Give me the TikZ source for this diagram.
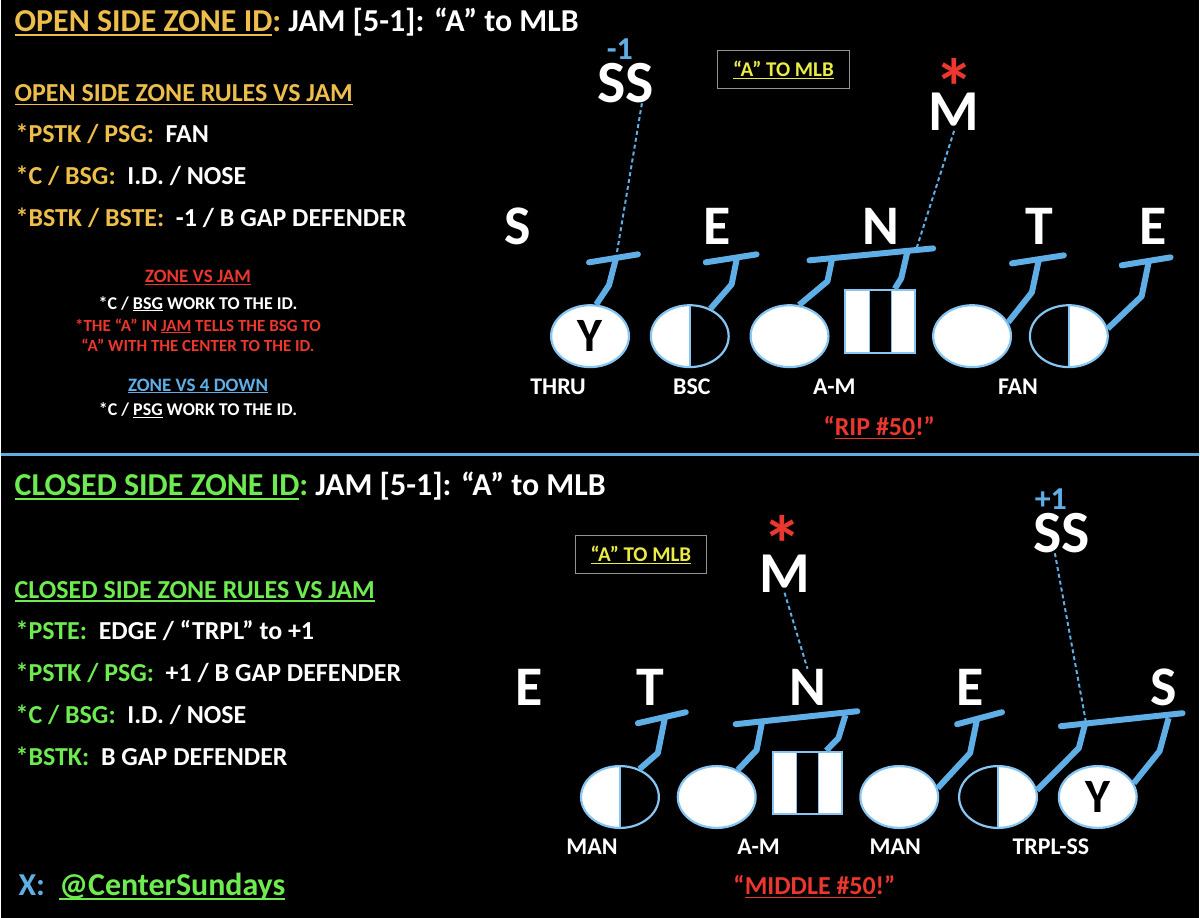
\documentclass[tikz,border=0pt]{standalone}
\usepackage{fontspec}
\setmainfont{Carlito}
\usetikzlibrary{shapes.geometric}

\definecolor{zgold}{RGB}{238,190,75}
\definecolor{zgreen}{RGB}{110,235,80}
\definecolor{zblue}{RGB}{95,175,230}
\definecolor{zred}{RGB}{235,55,45}
\definecolor{zyel}{RGB}{235,235,70}
\definecolor{ring}{RGB}{135,198,242}

\newcommand{\fsz}[1]{\fontsize{#1}{#1}\selectfont}
\newcommand{\uln}[1]{\setbox0\hbox{#1}\rlap{\rule[-0.12em]{\wd0}{0.05em}}\box0\relax}

\begin{document}
\begin{tikzpicture}[x=1pt, y=-1pt,
  txt/.style={inner sep=0pt, anchor=base west, text=white, font=\bfseries\fsz{26}},
  ctxt/.style={txt, anchor=base, font=\bfseries\fsz{24}},
  dman/.style={inner sep=0pt, anchor=base, text=white, font=\bfseries\fsz{56}},
  man/.style={ellipse, draw=ring, line width=2.2pt, fill=white, minimum width=78pt,
    minimum height=62pt, inner sep=0pt, text=black, font=\bfseries\fsz{48}},
  manR/.style={man, path picture={
    \fill[black] (path picture bounding box.north) rectangle (path picture bounding box.south east);
    \draw[ring, line width=1.5pt] (path picture bounding box.north) -- (path picture bounding box.south);}},
  manL/.style={man, path picture={
    \fill[black] (path picture bounding box.north) rectangle (path picture bounding box.south west);
    \draw[ring, line width=1.5pt] (path picture bounding box.north) -- (path picture bounding box.south);}},
  ctr/.style={rectangle, draw=ring, line width=2pt, fill=white, minimum width=70pt,
    minimum height=63pt, inner sep=0pt, path picture={
    \fill[black] ([xshift=-11pt]path picture bounding box.north) rectangle ([xshift=11pt]path picture bounding box.south);
    \draw[ring, line width=1.5pt] ([xshift=-11pt]path picture bounding box.north) -- ([xshift=-11pt]path picture bounding box.south)
      ([xshift=11pt]path picture bounding box.north) -- ([xshift=11pt]path picture bounding box.south);}},
  block/.style={draw=zblue, line width=6pt, line join=round},
  read/.style={draw=zblue, line width=2pt, dash pattern=on 4pt off 3pt},
  tag/.style={draw=gray!85, line width=1pt, minimum width=132pt, minimum height=38pt,
    text=zyel, font=\bfseries\fsz{21}}
]
\fill[black] (0,0) rectangle (1200,920);

% ---------- open side ----------
\node[txt, font=\bfseries\fsz{32}] (ttl1) at (13,32)
  {\color{zgold}\uln{OPEN SIDE ZONE ID}:\ \textcolor{white}{JAM [5-1]: “A” to MLB}};
\node[txt, text=zgold] (rul1) at (13,102) {\uln{OPEN SIDE ZONE RULES VS JAM}};
\node[txt, text=zgold] (r1a) at (14,143) {*PSTK / PSG:\ \ \textcolor{white}{FAN}};
\node[txt, text=zgold] (r1b) at (14,185) {*C / BSG:\ \ \textcolor{white}{I.D. / NOSE}};
\node[txt, text=zgold] (r1c) at (14,227) {*BSTK / BSTE:\ \ \textcolor{white}{-1 / B GAP DEFENDER}};

\node[ctxt, font=\bfseries\fsz{19}, text=zred] (zj) at (197,283) {\uln{ZONE VS JAM}};
\node[ctxt, font=\bfseries\fsz{18}] (zj1) at (197,310) {*C / \uln{BSG} WORK TO THE ID.};
\node[ctxt, font=\bfseries\fsz{17}, text=zred] (zj2) at (197,332) {*THE “A” IN \uln{JAM} TELLS THE BSG TO};
\node[ctxt, font=\bfseries\fsz{17}, text=zred] (zj3) at (197,352) {“A” WITH THE CENTER TO THE ID.};
\node[ctxt, font=\bfseries\fsz{19}, text=zblue] (z4) at (197,392) {\uln{ZONE VS 4 DOWN}};
\node[ctxt, font=\bfseries\fsz{18}] (z41) at (197,417) {*C / \uln{PSG} WORK TO THE ID.};

% defense
\node[dman, font=\bfseries\fsz{32}, text=zblue] (mn1) at (620,60) {-1};
\node[dman, font=\bfseries\fsz{60}] (ss1) at (626,103) {SS};
\node[tag] (box1) at (784,70) {\uln{“A” TO MLB}};
\node[inner sep=0pt, anchor=north, text=zred, font=\bfseries\fsz{80}] (ast1) at (955,58) {*};
\node[dman, font=\bfseries\fsz{58}] (m1) at (955,131) {M};
\foreach \n/\l/\x in {s1/S/517, e1/E/717, n1/N/882, t1/T/1040, f1/E/1154}
  \node[dman] (\n) at (\x,245) {\l};

% offense
\node[man]  (y1) at (590,337) {Y};
\node[manR] (b1) at (690,337) {};
\node[man]  (g1) at (790,337) {};
\node[ctr]  (c1) at (881,322) {};
\node[man]  (k1) at (973,337) {};
\node[manL] (q1) at (1070,337) {};

% blocks
\foreach \n/\a/\kx/\ky/\px/\py in {y1/79/609/286/616/259, b1/53/732/285/737/260,
    g1/73/828/282/833/258, c1/66/902/279/908/253, k1/21/1033/293/1040/260, q1/11/1143/297/1150/263} {
  \coordinate (\n k) at (\kx,\ky);
  \coordinate (\n p) at (\px,\py);
  \draw[block] (\n.\a) -- (\n k) -- (\n p);
}
\foreach \n/\lx/\ly/\rx/\ry in {y1/589/263/638/255, b1/706/263/757/255, g1/810/261/934/249,
    k1/1013/264/1065/256, q1/1123/266/1172/258} {
  \coordinate (\n L) at (\lx,\ly);
  \coordinate (\n R) at (\rx,\ry);
  \draw[block, line cap=round] (\n L) -- (\n R);
}
\coordinate (m1x) at (917,250);
\draw[read] ([xshift=16pt]ss1.south) -- (y1p);
\draw[read] (m1.south) -- (m1x);

\foreach \l/\x in {THRU/558, BSC/692, A-M/835, FAN/1019}
  \node[ctxt] at (\x,395) {\l};
\node[ctxt, font=\bfseries\fsz{26}, text=zred] (rip) at (880,437) {“\uln{RIP \#50}!”};

\draw[zblue, line width=3pt] (0,456) -- (1200,456);

% ---------- closed side ----------
\node[txt, font=\bfseries\fsz{32}] (ttl2) at (13,497)
  {\color{zgreen}\uln{CLOSED SIDE ZONE ID}:\ \textcolor{white}{JAM [5-1]: “A” to MLB}};
\node[txt, text=zgreen] (rul2) at (13,600) {\uln{CLOSED SIDE ZONE RULES VS JAM}};
\node[txt, text=zgreen] (r2a) at (14,641) {*PSTE:\ \ \textcolor{white}{EDGE / “TRPL” to +1}};
\node[txt, text=zgreen] (r2b) at (14,683) {*PSTK / PSG:\ \ \textcolor{white}{+1 / B GAP DEFENDER}};
\node[txt, text=zgreen] (r2c) at (14,725) {*C / BSG:\ \ \textcolor{white}{I.D. / NOSE}};
\node[txt, text=zgreen] (r2d) at (14,767) {*BSTK:\ \ \textcolor{white}{B GAP DEFENDER}};
\node[txt, font=\bfseries\fsz{32}, text=zblue] (hdl) at (17,898) {X:\ \ \textcolor{zgreen}{\uln{@CenterSundays}}};

% defense
\node[tag] (box2) at (641,556) {\uln{“A” TO MLB}};
\node[inner sep=0pt, anchor=north, text=zred, font=\bfseries\fsz{80}] (ast2) at (783,517) {*};
\node[dman, font=\bfseries\fsz{58}] (m2) at (785,594) {M};
\node[dman, font=\bfseries\fsz{32}, text=zblue] (pl2) at (1052,511) {+1};
\node[dman, font=\bfseries\fsz{60}] (ss2) at (1063,554) {SS};
\foreach \n/\l/\x in {e2/E/529, t2/T/650, n2/N/808, f2/E/971, s2/S/1165}
  \node[dman] (\n) at (\x,707) {\l};

% offense
\node[manR] (h1) at (620,799) {};
\node[man]  (h2) at (717,799) {};
\node[ctr]  (h3) at (808,785) {};
\node[man]  (h4) at (900,799) {};
\node[manL] (h5) at (999,799) {};
\node[man]  (h6) at (1099,799) {Y};

% blocks
\foreach \n/\a/\kx/\ky/\px/\py in {h1/55/658/755/665/720, h2/52/757/752/763/721,
    h3/60/839/740/846/717, h4/13/971/755/978/721, h5/10/1080/750/1087/723, h6/21/1161/753/1170/720} {
  \coordinate (\n k) at (\kx,\ky);
  \coordinate (\n p) at (\px,\py);
  \draw[block] (\n.\a) -- (\n k) -- (\n p);
}
\foreach \n/\lx/\ly/\rx/\ry in {h1/638/725/686/714, h2/736/726/858/713, h4/958/726/1003/714,
    h5/1062/728/1184/715} {
  \coordinate (\n L) at (\lx,\ly);
  \coordinate (\n R) at (\rx,\ry);
  \draw[block, line cap=round] (\n L) -- (\n R);
}
\draw[read] (m2.south) -- (n2.north);
\draw[read] ([xshift=-7pt]ss2.south) -- (h5p);

\foreach \l/\x in {MAN/592, A-M/759, MAN/896, TRPL-SS/1052}
  \node[ctxt] at (\x,857) {\l};
\node[ctxt, font=\bfseries\fsz{26}, text=zred] (mid) at (815,897) {“\uln{MIDDLE \#50}!”};
\end{tikzpicture}
\end{document}
